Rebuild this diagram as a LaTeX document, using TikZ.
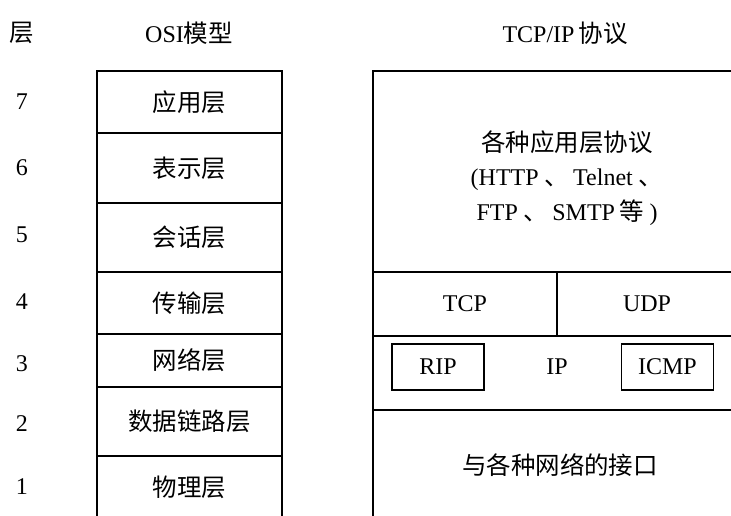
\documentclass[tikz,border=0pt]{standalone}
\usepackage{fontspec}
\setmainfont{Liberation Serif}
\newfontfamily\cjk[Scale=1.02]{Noto Sans CJK SC}
\begin{document}
\begin{tikzpicture}[x=1pt,y=-1pt,
  frame/.style={line width=1.8pt,line cap=rect},
  lbl/.style={font=\fontsize{24}{28}\selectfont,inner sep=0pt,anchor=center},
  smallbox/.style={draw,line width=1.8pt,minimum width=92pt,minimum height=46pt,inner sep=0pt,font=\fontsize{24}{28}\selectfont}]
\useasboundingbox (0,0) rectangle (731,516);
\clip (0,0) rectangle (731,516);
% headers
\node[lbl] (hlayer) at (22,33) {\cjk 层};
\node[lbl] (hosi) at (189,33) {OSI{\cjk 模型}};
\node[lbl] (htcp) at (565,33) {TCP/IP\,{\cjk 协议}};
% layer numbers
\node[lbl] (n7) at (22,102) {7};
\node[lbl] (n6) at (22,168) {6};
\node[lbl] (n5) at (22,235) {5};
\node[lbl] (n4) at (22,302) {4};
\node[lbl] (n3) at (22,364) {3};
\node[lbl] (n2) at (22,424) {2};
\node[lbl] (n1) at (22,487) {1};
% OSI frame
\draw[frame] (97,530) -- (97,71) -- (282,71) -- (282,530);
\foreach \yy in {133,203,272,334,387,456} \draw[frame] (97,\yy) -- (282,\yy);
\node[lbl] (o7) at (189.5,102) {\cjk 应用层};
\node[lbl] (o6) at (189.5,168) {\cjk 表示层};
\node[lbl] (o5) at (189.5,237) {\cjk 会话层};
\node[lbl] (o4) at (189.5,303) {\cjk 传输层};
\node[lbl] (o3) at (189.5,360) {\cjk 网络层};
\node[lbl] (o2) at (189.5,421) {\cjk 数据链路层};
\node[lbl] (o1) at (189.5,487) {\cjk 物理层};
% TCP/IP frame
\draw[frame] (373,530) -- (373,71) -- (745,71);
\foreach \yy in {272,336,410} \draw[frame] (373,\yy) -- (745,\yy);
\draw[frame] (557,272) -- (557,336);
\node[lbl,align=center,font=\fontsize{24}{34.5}\selectfont] (app) at (567,178)
  {{\cjk 各种应用层协议}\\(HTTP\ {\cjk 、}\,Telnet\ {\cjk 、}\\FTP\ {\cjk 、}\,SMTP\,{\cjk 等}\ )};
\node[lbl] (tcp) at (465,304) {TCP};
\node[lbl] (udp) at (647,304) {UDP};
\node[lbl] (ip) at (557,367) {IP};
\node[smallbox] (rip) at (438,367) {RIP};
\node[smallbox] (icmp) at (667.5,367) {ICMP};
\node[lbl] (iface) at (560,465) {\cjk 与各种网络的接口};
\end{tikzpicture}
\end{document}
